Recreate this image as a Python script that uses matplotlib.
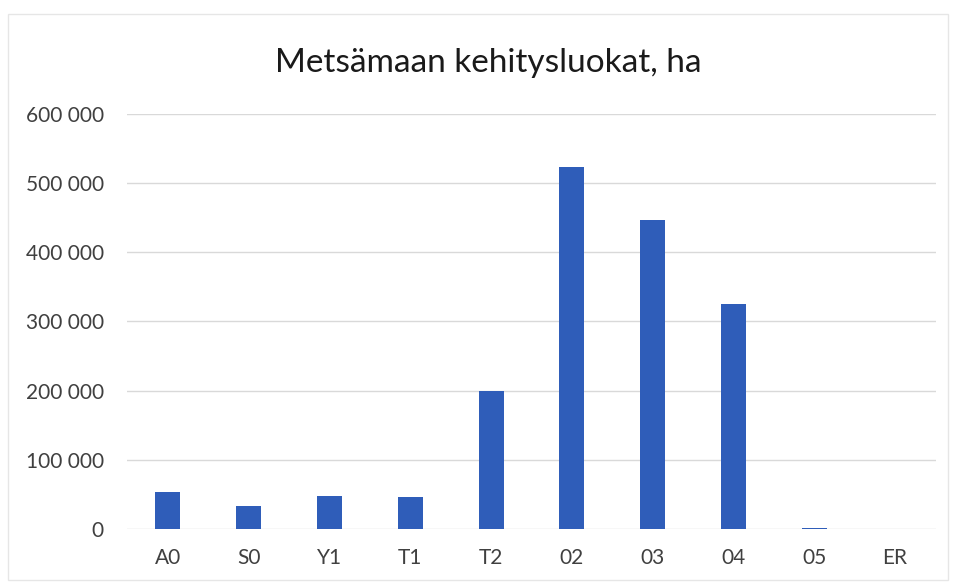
import numpy as np
import matplotlib.pyplot as plt
from matplotlib.ticker import FuncFormatter

# kehitysluokat ja pinta-alat (ha)
luokat = ["A0", "S0", "Y1", "T1", "T2", "02", "03", "04", "05", "ER"]
pinta_ala = [53800, 33200, 47600, 45700, 199000, 523800, 447000, 325000, 2000, 0]
y_ticks = [0, 100000, 200000, 300000, 400000, 500000, 600000]

plt.rcParams['font.family'] = ['Lato', 'DejaVu Sans']

fig = plt.figure(figsize=(9.55, 5.87), dpi=100)
ax = fig.add_axes([0.1335, 0.0988, 0.8461, 0.707])

x = np.arange(len(luokat))
ax.bar(x, pinta_ala, width=0.31, color='#2F5DB9', zorder=3)

ax.set_xlim(-0.5, len(luokat) - 0.5)
ax.set_ylim(0, 600000)
ax.set_xticks(x)
ax.set_xticklabels(luokat)
ax.set_yticks(y_ticks)
ax.yaxis.set_major_formatter(FuncFormatter(lambda v, p: f"{int(v):,}".replace(",", " ")))

ax.grid(axis='y', color='#D9D9D9', linewidth=1, zorder=0)
for s in ax.spines.values():
    s.set_visible(False)
ax.tick_params(axis='both', length=0, labelsize=15, colors='#404040')
ax.tick_params(axis='y', pad=17)
ax.tick_params(axis='x', pad=14)

fig.text(0.511, 0.893, "Metsämaan kehitysluokat, ha", ha='center', va='center',
         fontsize=24, color='#1a1a1a')

# kaavion reunaviiva
fig.patches.append(plt.Rectangle((0.008, 0.012), 0.985, 0.965, transform=fig.transFigure,
                                 fill=False, edgecolor='#E6E6E6', linewidth=1))

fig.savefig("out.png", dpi=100)
